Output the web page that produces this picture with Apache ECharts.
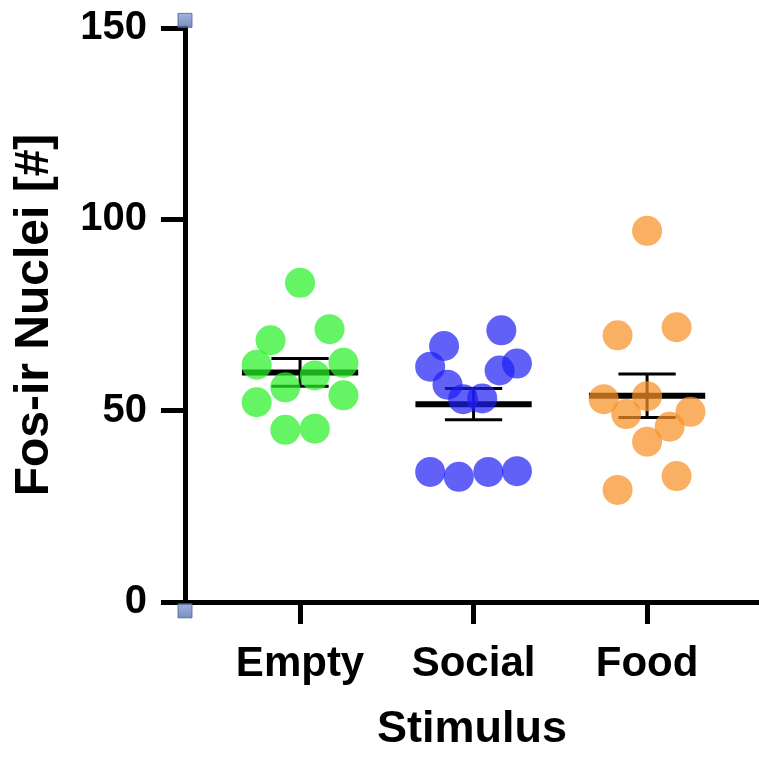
<!DOCTYPE html>
<html>
<head>
<meta charset="utf-8">
<script src="https://cdn.jsdelivr.net/npm/echarts@6/dist/echarts.min.js"></script>
<style>html,body{margin:0;padding:0;background:#fff}#c{width:759px;height:757px}</style>
</head>
<body>
<div id="c"></div>
<script>
// ---- data ----
const categories = ['Empty', 'Social', 'Food'];
const yTicks = [0, 50, 100, 150];

const emptyValues  = [83.4, 71.3, 68.4, 62.0, 62.5, 59.2, 56.1, 52.2, 54.0, 45.0, 45.3];
const emptyJitter  = [0, 0.17, -0.17, -0.25, 0.25, 0.085, -0.085, -0.25, 0.25, -0.085, 0.085];

const socialValues = [66.9, 61.5, 71.0, 62.3, 60.5, 56.8, 53.0, 53.2, 34.0, 32.7, 34.0, 34.2];
const socialJitter = [-0.17, -0.25, 0.16, 0.25, 0.15, -0.15, -0.06, 0.05, -0.25, -0.085, 0.085, 0.25];

const foodValues   = [97.0, 69.7, 71.8, 53.0, 53.8, 49.1, 49.7, 45.8, 41.9, 32.9, 29.3];
const foodJitter   = [0, -0.17, 0.17, -0.25, 0, -0.12, 0.25, 0.13, 0, 0.17, -0.17];

const means = [60.0, 51.7, 53.9];
const sems  = [3.6, 4.1, 5.7];

// ---- chart ----
const FONT = "'Liberation Sans', Arial, sans-serif";
const X_MIN = 0.337, X_MAX = 3.645;
const colors = ['rgba(40,240,40,0.9)', 'rgba(30,30,245,0.88)', 'rgba(248,145,38,0.9)'];
const groups = [[emptyValues, emptyJitter], [socialValues, socialJitter], [foodValues, foodJitter]];

const scatterSeries = groups.map((g, i) => ({
  type: 'scatter',
  name: categories[i],
  symbol: 'circle',
  symbolSize: 30,
  z: 5,
  itemStyle: { color: colors[i], borderWidth: 0 },
  data: g[0].map((v, k) => [i + 1 + g[1][k], v])
}));

const summaryData = means.map((m, i) => [i + 1, m, m - sems[i], m + sems[i]]);

const summarySeries = {
  type: 'custom',
  z: 3,
  data: summaryData,
  encode: { x: 0, y: [1, 2, 3] },
  renderItem: function (params, api) {
    const x = api.value(0);
    const pm = api.coord([x, api.value(1)]);
    const lo = api.coord([x, api.value(2)]);
    const hi = api.coord([x, api.value(3)]);
    const unit = api.size([1, 0])[0];
    const halfMean = unit * 0.335;
    const halfCap = unit * 0.165;
    const thin = { stroke: '#000', lineWidth: 3 };
    return {
      type: 'group',
      children: [
        { type: 'line', shape: { x1: pm[0] - halfMean, y1: pm[1], x2: pm[0] + halfMean, y2: pm[1] }, style: { stroke: '#000', lineWidth: 6 } },
        { type: 'line', shape: { x1: hi[0], y1: hi[1], x2: lo[0], y2: lo[1] }, style: thin },
        { type: 'line', shape: { x1: hi[0] - halfCap, y1: hi[1], x2: hi[0] + halfCap, y2: hi[1] }, style: thin },
        { type: 'line', shape: { x1: lo[0] - halfCap, y1: lo[1], x2: lo[0] + halfCap, y2: lo[1] }, style: thin }
      ]
    };
  }
};

const handleSeries = {
  type: 'scatter',
  symbol: 'rect',
  symbolSize: 14,
  clip: false,
  z: 10,
  silent: true,
  itemStyle: {
    color: new echarts.graphic.LinearGradient(0, 0, 0, 1, [
      { offset: 0, color: '#8aa0d8' }, { offset: 1, color: '#5670b0' }
    ]),
    borderColor: '#4a5f9a', borderWidth: 1
  },
  data: [[X_MIN, 152], [X_MIN, -2.3]]
};

const chart = echarts.init(document.getElementById('c'), null, { renderer: 'canvas' });
chart.setOption({
  animation: false,
  backgroundColor: '#fff',
  grid: { left: 185, right: 0, top: 28, bottom: 146, containLabel: false },
  xAxis: {
    type: 'value',
    min: X_MIN,
    max: X_MAX,
    name: 'Stimulus',
    nameLocation: 'middle',
    nameGap: 105,
    nameTextStyle: { fontFamily: FONT, fontWeight: 'bold', fontSize: 45, color: '#000' },
    axisLine: { show: true, onZero: false, lineStyle: { color: '#000', width: 5 } },
    axisTick: { show: true, length: 22, lineStyle: { color: '#000', width: 5 }, customValues: [1, 2, 3] },
    axisLabel: {
      customValues: [1, 2, 3],
      formatter: v => categories[Math.round(v) - 1] || '',
      fontFamily: FONT, fontWeight: 'bold', fontSize: 42, color: '#000', margin: 41
    },
    splitLine: { show: false }
  },
  yAxis: {
    type: 'value',
    min: 0,
    max: 150,
    interval: 50,
    name: 'Fos-ir Nuclei [#]',
    nameLocation: 'middle',
    nameGap: 126,
    nameTextStyle: { fontFamily: FONT, fontWeight: 'bold', fontSize: 48, color: '#000' },
    axisLine: { show: true, lineStyle: { color: '#000', width: 5 } },
    axisTick: { show: true, length: 24, lineStyle: { color: '#000', width: 5 } },
    axisLabel: {
      formatter: v => (yTicks.indexOf(v) >= 0 ? String(v) : ''),
      fontFamily: FONT, fontWeight: 'bold', fontSize: 40, color: '#000', margin: 38
    },
    splitLine: { show: false }
  },
  series: [summarySeries, ...scatterSeries, handleSeries]
});
</script>
</body>
</html>
